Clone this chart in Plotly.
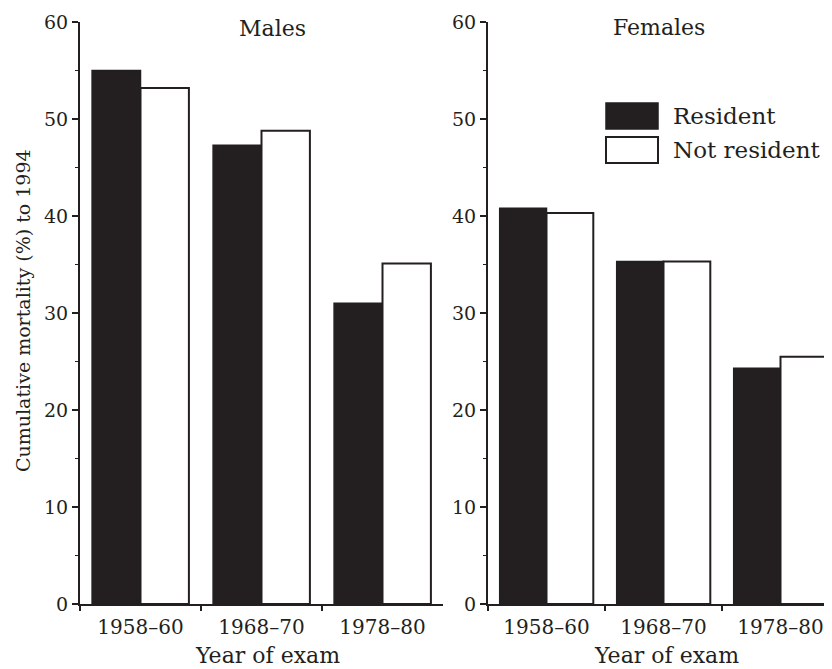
import plotly.graph_objects as go

# ---- data ----
categories = ["1958–60", "1968–70", "1978–80"]
males_resident = [55.0, 47.3, 31.0]
males_not_resident = [53.2, 48.8, 35.1]
females_resident = [40.8, 35.3, 24.3]
females_not_resident = [40.3, 35.3, 25.5]
series_names = ["Resident", "Not resident"]
panel_titles = ["Males", "Females"]
y_ticks = [0, 10, 20, 30, 40, 50, 60]
x_title = "Year of exam"
y_title = "Cumulative mortality (%) to 1994"

FONT = "DejaVu Serif"
INK = "#231f20"
OFF = 8  # page body margin
W, H = 832, 669


def px_x(x):
    return (x - OFF) / W


def px_y(y):
    return 1 - (y - OFF) / H


fig = go.Figure()

res_style = dict(marker=dict(color=INK, line=dict(color=INK, width=1.5)))
not_style = dict(marker=dict(color="white", line=dict(color=INK, width=2)))

fig.add_trace(go.Bar(x=categories, y=males_resident, name=series_names[0],
                     xaxis="x", yaxis="y", showlegend=False, **res_style))
fig.add_trace(go.Bar(x=categories, y=males_not_resident, name=series_names[1],
                     xaxis="x", yaxis="y", showlegend=False, **not_style))
fig.add_trace(go.Bar(x=categories, y=females_resident, name=series_names[0],
                     xaxis="x2", yaxis="y2", showlegend=False, **res_style))
fig.add_trace(go.Bar(x=categories, y=females_not_resident, name=series_names[1],
                     xaxis="x2", yaxis="y2", showlegend=False, **not_style))

ydom = [px_y(604), px_y(22)]

xcommon = dict(
    type="category", showline=True, linecolor=INK, linewidth=2,
    ticks="outside", tickson="boundaries", ticklen=5, tickwidth=1.5, tickcolor=INK,
    ticklabelstandoff=4,
    tickfont=dict(family=FONT, size=20, color=INK), showgrid=False, zeroline=False,
    automargin=False, fixedrange=True,
)
ycommon = dict(
    range=[0, 60], tickvals=y_ticks, showline=True, linecolor=INK, linewidth=2,
    ticks="outside", ticklen=6, tickwidth=1.5, tickcolor=INK,
    minor=dict(dtick=5, ticks="outside", ticklen=3, tickwidth=1, tickcolor=INK),
    tickfont=dict(family=FONT, size=19, color=INK), showgrid=False, zeroline=False,
    automargin=False, domain=ydom, fixedrange=True,
)

fig.update_layout(
    width=W, height=H,
    margin=dict(l=0, r=0, t=0, b=0),
    paper_bgcolor="white", plot_bgcolor="white",
    barmode="group", bargap=0.2, bargroupgap=0,
    font=dict(family=FONT, color=INK),
    xaxis=dict(domain=[px_x(80), px_x(443)], range=[-0.5, 2.5], anchor="y", **xcommon),
    yaxis=dict(anchor="x", **ycommon),
    xaxis2=dict(domain=[px_x(488), 1.0], range=[-0.5, -0.5 + (W + OFF - 488) / 117],
                anchor="y2", **xcommon),
    yaxis2=dict(anchor="x2", **ycommon),
)


def note(text, x, y, size, xanchor="center", angle=0):
    return dict(text=text, x=px_x(x), y=px_y(y), xref="paper", yref="paper",
                xanchor=xanchor, yanchor="middle", textangle=angle, showarrow=False,
                font=dict(family=FONT, size=size, color=INK))


annotations = [
    note(panel_titles[0], 272, 29, 22),
    note(panel_titles[1], 659, 27, 22),
    note(x_title, 267, 655, 22),
    note(x_title, 666, 655, 22),
    note(y_title, 23, 311, 19, angle=-90),
    note(series_names[0], 671, 116, 23, xanchor="left"),
    note(series_names[1], 671, 150, 23, xanchor="left"),
]
fig.update_layout(annotations=annotations)

shapes = [
    dict(type="rect", xref="paper", yref="paper", x0=px_x(606), x1=px_x(658),
         y0=px_y(129), y1=px_y(103), fillcolor=INK, line=dict(color=INK, width=1.5)),
    dict(type="rect", xref="paper", yref="paper", x0=px_x(606), x1=px_x(658),
         y0=px_y(163), y1=px_y(137), fillcolor="white", line=dict(color=INK, width=2)),
]
fig.update_layout(shapes=shapes)

fig.write_html("out.html")
